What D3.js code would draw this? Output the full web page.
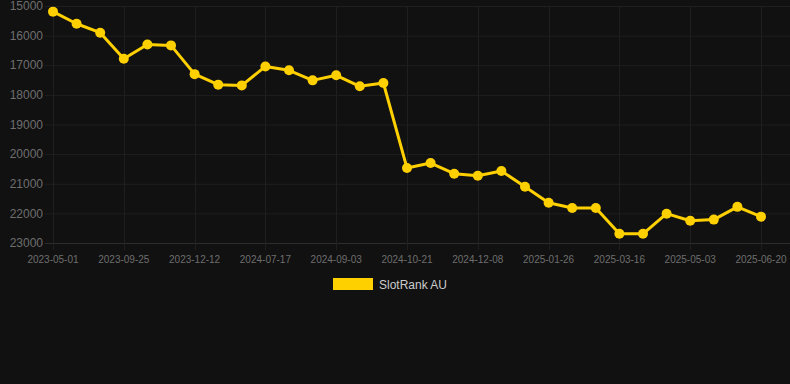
<!DOCTYPE html>
<html>
<head>
<meta charset="utf-8">
<script src="https://cdn.jsdelivr.net/npm/d3@7"></script>
<style>
  html, body { margin: 0; padding: 0; background: #111111; }
  svg { display: block; font-family: "Liberation Sans", Arial, sans-serif; }
</style>
</head>
<body>
<div id="viz"></div>
<script>
const width = 790;
const height = 384;
const margin = {top: 6, right: 0, bottom: 141, left: 53};
const lineColor = '#ffd000';

// Rank per snapshot (lower is better, axis is reversed)
const ranks = [
  15190, 15600, 15900, 16780, 16300, 16330, 17300, 17655, 17680, 17040,
  17170, 17510, 17340, 17710, 17600, 20470, 20300, 20660, 20730, 20570,
  21100, 21640, 21820, 21820, 22690, 22690, 22010, 22250, 22210, 21780,
  22110
];
// Only every third snapshot gets a date label
const tickLabels = [
  '2023-05-01', '2023-09-25', '2023-12-12', '2024-07-17', '2024-09-03',
  '2024-10-21', '2024-12-08', '2025-01-26', '2025-03-16', '2025-05-03',
  '2025-06-20'
];
const yTicks = [15000, 16000, 17000, 18000, 19000, 20000, 21000, 22000, 23000];
const seriesName = 'SlotRank AU';

const svg = d3.select('#viz')
  .append('svg')
  .attr('width', width)
  .attr('height', height);

const xScale = d3.scalePoint()
  .domain(d3.range(ranks.length))
  .range([margin.left, 761]);

const yScale = d3.scaleLinear()
  .domain([15000, 23000])
  .range([margin.top, height - margin.bottom]);

// horizontal grid
svg.append('g')
  .selectAll('line')
  .data(yTicks)
  .join('line')
  .attr('x1', margin.left - 8)
  .attr('x2', width)
  .attr('y1', d => yScale(d) + 0.5)
  .attr('y2', d => yScale(d) + 0.5)
  .attr('stroke', d => d === 23000 ? '#2c2c2c' : '#1f1f1f');

// vertical grid at labelled snapshots
const tickIdx = tickLabels.map((d, i) => i * 3);
svg.append('g')
  .selectAll('line')
  .data(tickIdx)
  .join('line')
  .attr('x1', d => Math.round(xScale(d)) + 0.5)
  .attr('x2', d => Math.round(xScale(d)) + 0.5)
  .attr('y1', margin.top)
  .attr('y2', yScale(23000) + 7)
  .attr('stroke', '#1f1f1f');

// y axis labels
svg.append('g')
  .selectAll('text')
  .data(yTicks)
  .join('text')
  .attr('x', 43)
  .attr('y', d => yScale(d))
  .attr('dy', '0.35em')
  .attr('text-anchor', 'end')
  .attr('fill', '#6e6e6e')
  .attr('font-size', 12)
  .text(d => d);

// x axis labels
svg.append('g')
  .selectAll('text')
  .data(tickIdx)
  .join('text')
  .attr('x', d => xScale(d))
  .attr('y', 263)
  .attr('text-anchor', 'middle')
  .attr('fill', '#6e6e6e')
  .attr('font-size', 10)
  .text((d, i) => tickLabels[i]);

const line = d3.line()
  .x((d, i) => xScale(i))
  .y(d => yScale(d));

svg.append('path')
  .datum(ranks)
  .attr('d', line)
  .attr('fill', 'none')
  .attr('stroke', lineColor)
  .attr('stroke-width', 3)
  .attr('stroke-linejoin', 'round');

svg.append('g')
  .selectAll('circle')
  .data(ranks)
  .join('circle')
  .attr('cx', (d, i) => xScale(i))
  .attr('cy', d => yScale(d))
  .attr('r', 5)
  .attr('fill', lineColor);

// legend
const legend = svg.append('g').attr('transform', 'translate(333,278)');
legend.append('rect')
  .attr('width', 40)
  .attr('height', 12)
  .attr('fill', lineColor);
legend.append('text')
  .attr('x', 46)
  .attr('y', 10.5)
  .attr('fill', '#cccccc')
  .attr('font-size', 12)
  .text(seriesName);
</script>
</body>
</html>
